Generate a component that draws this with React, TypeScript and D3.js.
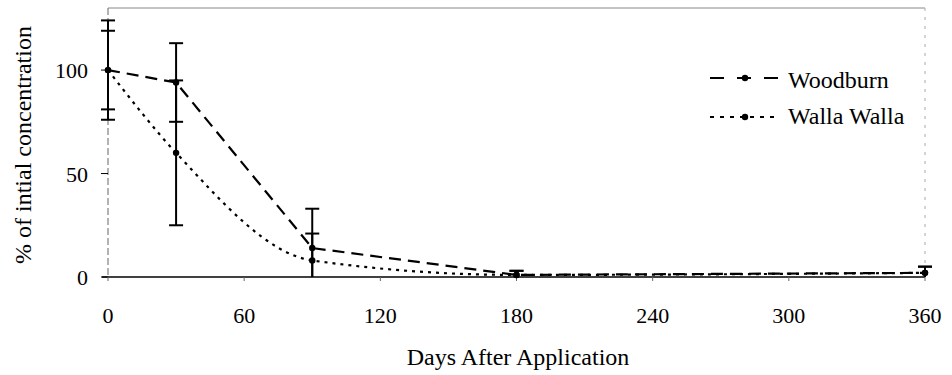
import * as d3 from 'd3'
import { useEffect, useRef } from 'react'

// days after application
const days = [0, 30, 90, 180, 360]
// % of initial concentration
const woodburn = [100, 94, 14, 1, 2]
const woodburnErr = [19, 19, 19, 2, 3]
const wallaWalla = [100, 60, 8, 1, 2]
const wallaErr = [24, 35, 13, 2, 3]

const xTicks = [0, 60, 120, 180, 240, 300, 360]
const yTicks = [0, 50, 100]

const seriesList = [
  { name: 'Woodburn', values: woodburn, err: woodburnErr, dash: '12,7', curve: d3.curveLinear },
  { name: 'Walla Walla', values: wallaWalla, err: wallaErr, dash: '3,5', curve: d3.curveMonotoneX },
]

function App() {
  const ref = useRef<SVGSVGElement>(null)

  useEffect(() => {
    const svg = d3.select(ref.current)
    svg.selectAll('*').remove()

    const x = d3.scaleLinear().domain([0, 360]).range([108, 925])
    const y = d3.scaleLinear().domain([0, 130]).range([277, 8])
    const font = '"Times New Roman", "Liberation Serif", Times, serif'

    // frame: faint top and right borders, dashed y axis
    svg.append('line').attr('x1', x(0)).attr('x2', x(360)).attr('y1', y(130)).attr('y2', y(130))
      .attr('stroke', '#888').attr('stroke-width', 1)
    svg.append('line').attr('x1', x(360)).attr('x2', x(360)).attr('y1', y(130)).attr('y2', y(0))
      .attr('stroke', '#aaa').attr('stroke-width', 1).attr('stroke-dasharray', '3,6')
    svg.append('line').attr('x1', x(0)).attr('x2', x(0)).attr('y1', y(130)).attr('y2', y(0))
      .attr('stroke', '#666').attr('stroke-width', 1).attr('stroke-dasharray', '7,3')
    svg.append('line').attr('x1', x(0) - 6).attr('x2', x(360)).attr('y1', y(0)).attr('y2', y(0))
      .attr('stroke', '#000').attr('stroke-width', 1.5)

    // y ticks
    svg.selectAll('.yt').data(yTicks).enter().append('line')
      .attr('x1', x(0) - 7).attr('x2', x(0)).attr('y1', d => y(d)).attr('y2', d => y(d))
      .attr('stroke', '#000').attr('stroke-width', 1)
    svg.selectAll('.yl').data(yTicks).enter().append('text')
      .attr('x', 88).attr('y', d => y(d) + 8).attr('text-anchor', 'end')
      .attr('font-family', font).attr('font-size', 22).text(d => d)

    // x ticks
    svg.selectAll('.xt').data(xTicks).enter().append('line')
      .attr('x1', d => x(d)).attr('x2', d => x(d)).attr('y1', y(0)).attr('y2', y(0) + 4)
      .attr('stroke', '#666').attr('stroke-width', 1)
    svg.selectAll('.xl').data(xTicks).enter().append('text')
      .attr('x', d => x(d)).attr('y', 323).attr('text-anchor', 'middle')
      .attr('font-family', font).attr('font-size', 22).text(d => d)

    svg.append('text').attr('x', 518).attr('y', 365).attr('text-anchor', 'middle')
      .attr('font-family', font).attr('font-size', 24).text('Days After Application')
    svg.append('text').attr('transform', 'translate(31,145) rotate(-90)').attr('text-anchor', 'middle')
      .attr('font-family', font).attr('font-size', 24).text('% of intial concentration')

    // error bars
    seriesList.forEach(s => {
      const g = svg.append('g')
      days.forEach((d, i) => {
        const hi = s.values[i] + s.err[i]
        const lo = Math.max(0, s.values[i] - s.err[i])
        g.append('line').attr('x1', x(d)).attr('x2', x(d)).attr('y1', y(hi)).attr('y2', y(lo))
          .attr('stroke', '#000').attr('stroke-width', 2)
        g.append('line').attr('x1', x(d) - 7).attr('x2', x(d) + 7).attr('y1', y(hi)).attr('y2', y(hi))
          .attr('stroke', '#000').attr('stroke-width', 2)
        if (lo > 0) {
          g.append('line').attr('x1', x(d) - 7).attr('x2', x(d) + 7).attr('y1', y(lo)).attr('y2', y(lo))
            .attr('stroke', '#000').attr('stroke-width', 2)
        }
      })
    })

    // lines + markers
    seriesList.forEach(s => {
      const line = d3.line<number>()
        .x((_, i) => x(days[i]))
        .y(v => y(v))
        .curve(s.curve)
      svg.append('path').datum(s.values).attr('d', line)
        .attr('fill', 'none').attr('stroke', '#000').attr('stroke-width', 2.2)
        .attr('stroke-dasharray', s.dash)
      svg.selectAll('.m' + s.name.replace(' ', '')).data(s.values).enter().append('circle')
        .attr('cx', (_, i) => x(days[i])).attr('cy', v => y(v)).attr('r', 3.2).attr('fill', '#000')
    })

    // legend
    const lg = svg.append('g')
    const legendY = [78, 117]
    seriesList.forEach((s, i) => {
      const ly = legendY[i]
      lg.append('line').attr('x1', 710).attr('x2', 780).attr('y1', ly).attr('y2', ly)
        .attr('stroke', '#000').attr('stroke-width', 2.2).attr('stroke-dasharray', i === 0 ? '14,13' : '4,6')
      lg.append('circle').attr('cx', 745).attr('cy', ly).attr('r', 3.2).attr('fill', '#000')
      lg.append('text').attr('x', 788).attr('y', ly + (i === 0 ? 10 : 7))
        .attr('font-family', font).attr('font-size', 24).text(s.name)
    })
  }, [])

  return (
    <svg ref={ref} width={952} height={375}
      style={{ position: 'absolute', left: 0, top: 0, background: '#fff' }} />
  )
}

export default App
